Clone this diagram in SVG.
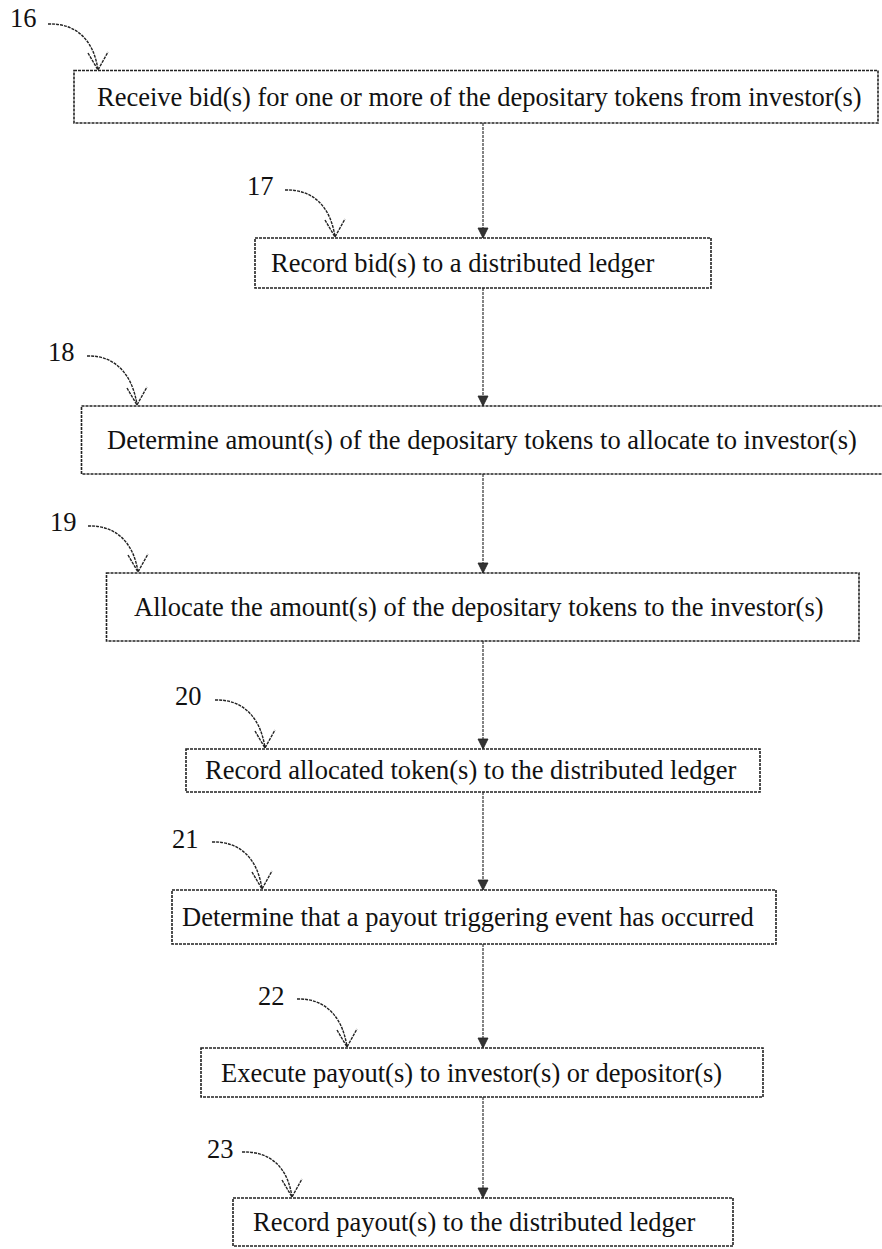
<svg xmlns="http://www.w3.org/2000/svg" width="882" height="1249" viewBox="0 0 882 1249">
<defs>
<style>
.box{fill:#fff;stroke:#222;stroke-width:1.6;stroke-dasharray:3 1}
.t{font-family:"Liberation Serif","Times New Roman",serif;font-size:26.5px;fill:#111}
.conn{stroke:#333;stroke-width:1.2;fill:none;stroke-dasharray:3 1}
.lead{stroke:#222;stroke-width:1.4;fill:none;stroke-dasharray:3 1}
</style>
<marker id="ah" markerWidth="12" markerHeight="12" refX="11" refY="6" orient="auto" markerUnits="userSpaceOnUse" viewBox="0 0 12 12">
<path d="M1,1 L11,6 L1,11 Z" fill="#333" stroke="#222" stroke-width="0.8"/>
</marker>
</defs>
<rect width="882" height="1249" fill="#fff"/>

<g id="connectors">
<line class="conn" x1="483" y1="123" x2="483" y2="238" marker-end="url(#ah)"/>
<line class="conn" x1="483" y1="288" x2="483" y2="406" marker-end="url(#ah)"/>
<line class="conn" x1="483" y1="474" x2="483" y2="573" marker-end="url(#ah)"/>
<line class="conn" x1="483" y1="641" x2="483" y2="749" marker-end="url(#ah)"/>
<line class="conn" x1="483" y1="792" x2="483" y2="890" marker-end="url(#ah)"/>
<line class="conn" x1="483" y1="944" x2="483" y2="1048" marker-end="url(#ah)"/>
<line class="conn" x1="483" y1="1097" x2="483" y2="1198" marker-end="url(#ah)"/>
</g>

<g id="node16">
<rect class="box" x="74" y="70.5" width="804" height="52.5"/>
<text class="t" x="97" y="106">Receive bid(s) for one or more of the depositary tokens from investor(s)</text>
<text class="t" x="10" y="27">16</text>
<path class="lead" d="M48,24 C78,23 94,42 98,70 M88,53 L98,70 L108,52"/>
</g>

<g id="node17">
<rect class="box" x="255" y="238" width="456" height="50"/>
<text class="t" x="271" y="272">Record bid(s) to a distributed ledger</text>
<text class="t" x="247" y="195">17</text>
<path class="lead" d="M285,190 C315,189 331,209 335,237 M325,220 L335,237 L345,219"/>
</g>

<g id="node18">
<rect class="box" x="81.5" y="406" width="810" height="68"/>
<text class="t" x="107" y="449">Determine amount(s) of the depositary tokens to allocate to investor(s)</text>
<text class="t" x="48" y="361">18</text>
<path class="lead" d="M87,356 C117,355 133,377 137,405 M127,388 L137,405 L147,387"/>
</g>

<g id="node19">
<rect class="box" x="106.5" y="573" width="752.5" height="68"/>
<text class="t" x="134" y="616">Allocate the amount(s) of the depositary tokens to the investor(s)</text>
<text class="t" x="50" y="531">19</text>
<path class="lead" d="M88,526 C118,525 134,545 138,572 M128,555 L138,572 L148,554"/>
</g>

<g id="node20">
<rect class="box" x="186" y="749" width="574" height="43"/>
<text class="t" x="205" y="779">Record allocated token(s) to the distributed ledger</text>
<text class="t" x="175" y="705">20</text>
<path class="lead" d="M215,700 C245,699 261,720 265,748 M255,731 L265,748 L275,730"/>
</g>

<g id="node21">
<rect class="box" x="172" y="890" width="604" height="54"/>
<text class="t" x="182" y="926">Determine that a payout triggering event has occurred</text>
<text class="t" x="172" y="848">21</text>
<path class="lead" d="M212,842 C242,841 258,861 262,889 M252,872 L262,889 L272,871"/>
</g>

<g id="node22">
<rect class="box" x="201" y="1048" width="562" height="49"/>
<text class="t" x="221" y="1082">Execute payout(s) to investor(s) or depositor(s)</text>
<text class="t" x="258" y="1005">22</text>
<path class="lead" d="M297,999 C327,998 343,1019 347,1047 M337,1030 L347,1047 L357,1029"/>
</g>

<g id="node23">
<rect class="box" x="233" y="1198" width="500" height="48"/>
<text class="t" x="253" y="1231">Record payout(s) to the distributed ledger</text>
<text class="t" x="207" y="1158">23</text>
<path class="lead" d="M242,1152 C272,1151 288,1169 292,1197 M282,1180 L292,1197 L302,1179"/>
</g>
</svg>
